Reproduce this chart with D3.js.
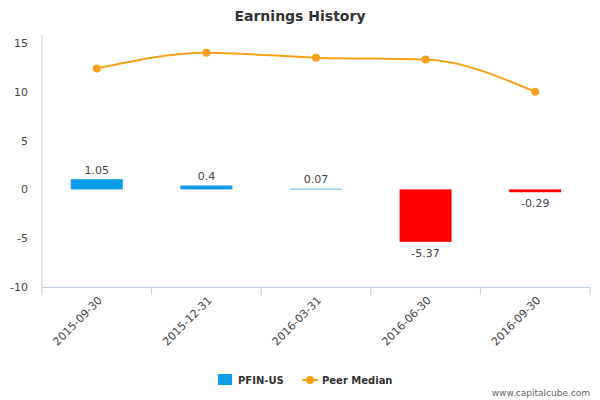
<!DOCTYPE html>
<html><head><meta charset="utf-8">
<script src="https://cdn.jsdelivr.net/npm/d3@7"></script>
<style>body{margin:0;background:#fff;font-family:"DejaVu Sans",sans-serif}</style>
</head><body><svg width="600" height="400"></svg>
<script>
const categories=["2015-09-30","2015-12-31","2016-03-31","2016-06-30","2016-09-30"];
const pfin=[1.05,0.4,0.07,-5.37,-0.29];
const peer=[12.4,14.0,13.5,13.3,10.0];
const yTicks=[-10,-5,0,5,10,15];
const svg=d3.select("svg");
const L=42,R=590,T=43,B=287;
const x=d3.scaleBand().domain(categories).range([L,R]);
const y=d3.scaleLinear().domain([-10,15]).range([B,T]);
svg.append("text").attr("x",300).attr("y",21).attr("text-anchor","middle").attr("font-size",14).attr("font-weight","bold").attr("fill","#333").text("Earnings History");
svg.append("line").attr("x1",L).attr("x2",L).attr("y1",T-8).attr("y2",B).attr("stroke","#c0d0e0");
yTicks.forEach(t=>svg.append("text").attr("x",28).attr("y",y(t)+4).attr("text-anchor","end").attr("font-size",11).attr("fill","#444").text(t));
svg.append("line").attr("x1",L).attr("x2",R).attr("y1",B+0.5).attr("y2",B+0.5).attr("stroke","#c0d0e0");
categories.concat([null]).forEach((c,i)=>{const xx=L+i*x.bandwidth();svg.append("line").attr("x1",xx).attr("x2",xx).attr("y1",B).attr("y2",B+8).attr("stroke","#c0d0e0");});
categories.forEach(c=>{const cx=x(c)+x.bandwidth()/2;svg.append("text").attr("transform",`translate(${cx+6},${B+14}) rotate(-45)`).attr("text-anchor","end").attr("font-size",11).attr("fill","#444").text(c);});
const bw=52;
pfin.forEach((v,i)=>{const cx=x(categories[i])+x.bandwidth()/2;
 svg.append("rect").attr("x",cx-bw/2).attr("width",bw).attr("y",Math.min(y(v),y(0))).attr("height",Math.abs(y(v)-y(0))).attr("fill",v>=0?"#0e9ee8":"#ff0000");
 const ly=v>=0?y(v)-5:y(v)+15;
 svg.append("text").attr("x",cx).attr("y",v>=0&&v<0.2?y(0)-6:ly).attr("text-anchor","middle").attr("font-size",11).attr("fill","#444").text(v);
});
const line=d3.line().x((d,i)=>x(categories[i])+x.bandwidth()/2).y(d=>y(d)).curve(d3.curveMonotoneX);
svg.append("path").attr("d",line(peer)).attr("fill","none").attr("stroke","#f7a11a").attr("stroke-width",2);
peer.forEach((v,i)=>svg.append("circle").attr("cx",x(categories[i])+x.bandwidth()/2).attr("cy",y(v)).attr("r",4).attr("fill","#f7a11a"));
svg.append("rect").attr("x",218).attr("y",374).attr("width",14).attr("height",11).attr("fill","#0e9ee8");
svg.append("text").attr("x",238).attr("y",384).attr("font-size",10).attr("font-weight","bold").attr("fill","#333").text("PFIN-US");
svg.append("line").attr("x1",302).attr("x2",318).attr("y1",380).attr("y2",380).attr("stroke","#f7a11a").attr("stroke-width",2);
svg.append("circle").attr("cx",310).attr("cy",380).attr("r",4).attr("fill","#f7a11a");
svg.append("text").attr("x",322).attr("y",384).attr("font-size",10).attr("font-weight","bold").attr("fill","#333").text("Peer Median");
svg.append("text").attr("x",590).attr("y",396).attr("text-anchor","end").attr("font-size",9).attr("fill","#666").text("www.capitalcube.com");
</script></body></html>
